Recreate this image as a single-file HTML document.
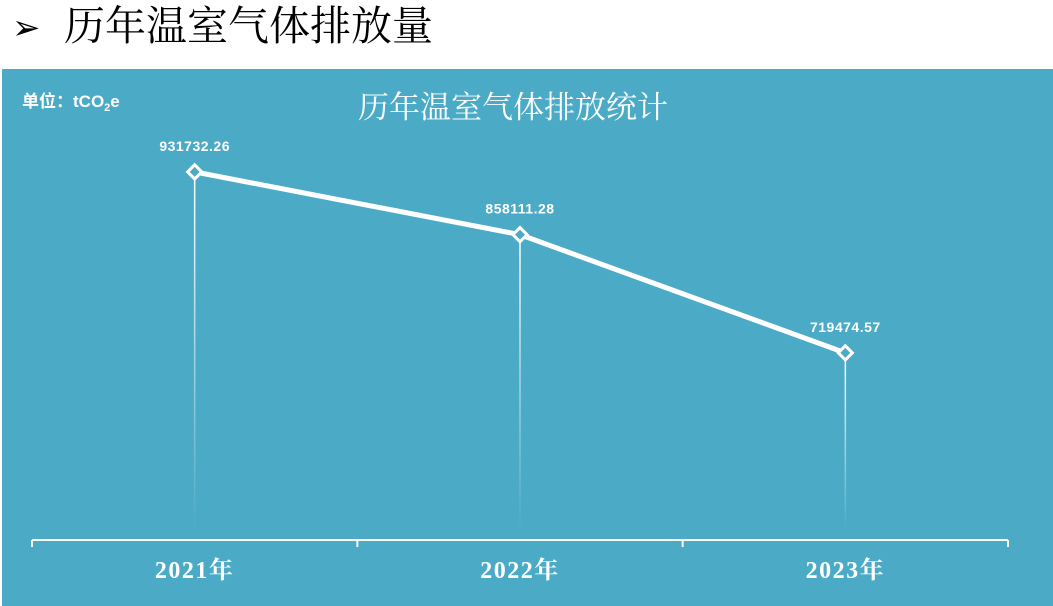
<!DOCTYPE html>
<html><head><meta charset="utf-8">
<style>
body{margin:0;width:1053px;height:606px;overflow:hidden;background:#fff;font-family:"Liberation Sans","Noto Sans CJK SC",sans-serif;}
#arrow{position:absolute;left:12px;top:8px;font-size:34px;line-height:40px;color:#000;}
#hdr{position:absolute;left:64px;top:0px;font-size:41px;color:#000;font-family:"Liberation Serif","Noto Serif CJK SC",serif;line-height:52px;}
#panel{position:absolute;left:2px;top:69px;width:1051px;height:537px;background:#4BABC6;}
svg{position:absolute;left:0;top:0;}
</style></head><body>
<div id="arrow">➢</div>
<div id="hdr">历年温室气体排放量</div>
<div id="panel"></div>
<svg width="1053" height="606">
<defs><linearGradient id="fade" x1="0" y1="0" x2="0" y2="1"><stop offset="0" stop-color="#fff" stop-opacity="1"/><stop offset="1" stop-color="#fff" stop-opacity="0"/></linearGradient></defs>
<text x="22" y="107" fill="#fff" font-size="17" font-weight="bold">单位：tCO<tspan font-size="11" dy="4">2</tspan><tspan dy="-4">e</tspan></text>
<text x="513" y="118" fill="#fff" font-size="31" text-anchor="middle" font-family="Liberation Serif,Noto Serif CJK SC,serif">历年温室气体排放统计</text>
<g id="g"></g>
</svg>
<script>
const categories=["2021年","2022年","2023年"];
const values=[931732.26,858111.28,719474.57];
const labels=["931732.26","858111.28","719474.57"];
const yMin=500000,yMax=950000;
const x0=32,x1=1008,yTop=156.3,yBot=540;
const band=(x1-x0)/categories.length;
function xs(i){return x0+band*(i+0.5);}
function ys(v){return yBot-(v-yMin)/(yMax-yMin)*(yBot-yTop);}
const g=document.getElementById('g');const NS="http://www.w3.org/2000/svg";
function mk(t,a){const e=document.createElementNS(NS,t);for(const k in a)e.setAttribute(k,a[k]);g.appendChild(e);return e;}
let e=mk('line',{x1:x0,x2:x1,y1:yBot,y2:yBot,stroke:'#fff','stroke-width':2});


for(let i=0;i<=categories.length;i++){const x=x0+band*i;e=mk('line',{x1:x,x2:x,y1:yBot,y2:yBot+7,stroke:'#fff','stroke-width':2});

}
categories.forEach((c,i)=>{
const x=xs(i),y=ys(values[i]);
e=mk('rect',{x:x-0.75,y:y,width:1.5,height:yBot-10-y,fill:'url(#fade)'});


e=mk('text',{x:x,y:578,fill:'#fff','font-size':24,'font-weight':'bold','letter-spacing':1.5,'text-anchor':'middle','font-family':'Liberation Serif,Noto Serif CJK SC,serif'});e.textContent=c;


e=mk('text',{x:x,y:y-21,fill:'#fff','font-size':14,'font-weight':'bold','letter-spacing':0.5,'text-anchor':'middle'});e.textContent=labels[i];


});
const pts=values.map((v,i)=>xs(i)+','+ys(v)).join(' ');
e=mk('polyline',{points:pts,fill:'none',stroke:'#fff','stroke-width':5,'stroke-linejoin':'round'});


values.forEach((v,i)=>{const x=xs(i),y=ys(v);
e=mk('rect',{x:x-5,y:y-5,width:10,height:10,fill:'#4BABC6',stroke:'#fff','stroke-width':3,transform:`rotate(45 ${x} ${y})`});

});
</script>
</body></html>
